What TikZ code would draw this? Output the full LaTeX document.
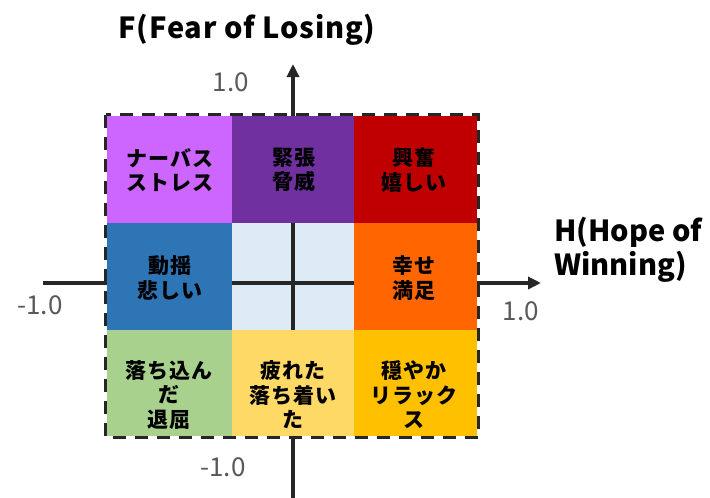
\documentclass[tikz,border=0pt]{standalone}
\usepackage{fontspec}
\setmainfont{Noto Sans CJK JP}
\usetikzlibrary{arrows.meta}
\definecolor{cNerv}{HTML}{CC66FF}
\definecolor{cTens}{HTML}{7030A0}
\definecolor{cExci}{HTML}{C00000}
\definecolor{cUpse}{HTML}{2E75B6}
\definecolor{cCent}{HTML}{DEEBF7}
\definecolor{cHapp}{HTML}{FF6600}
\definecolor{cDepr}{HTML}{A9D18E}
\definecolor{cTire}{HTML}{FFD966}
\definecolor{cCalm}{HTML}{FFC000}
\definecolor{axisgray}{HTML}{262626}
\definecolor{numgray}{HTML}{595959}
\tikzset{
  cellbox/.style={draw=none, minimum width=#1, minimum height=107pt, inner sep=0pt, anchor=center},
  celltext/.style={font=\bfseries\fontsize{21}{24.5}\selectfont\addfontfeatures{LetterSpace=6}, align=center, text=black, inner sep=0pt},
  axisline/.style={draw=axisgray, line width=3.5pt, -{Triangle[length=13pt,width=12pt]}},
  numlabel/.style={font=\fontsize{26}{30}\selectfont, text=numgray, inner sep=0pt},
  axtitle/.style={font=\bfseries\fontsize{29}{34}\selectfont, text=black, inner sep=0pt, align=left},
  border/.style={draw=black!85, line width=3pt, dash pattern=on 13pt off 9pt}
}
\begin{document}
\begin{tikzpicture}[x=1pt,y=-1pt]
\useasboundingbox (0,0) rectangle (710,498);
% center cell
\node[cellbox=122pt, fill=cCent] (cc) at (293,276.5) {};
% axes
\coordinate (ybot) at (293,498);
\coordinate (ytop) at (293,64);
\coordinate (xl) at (43,283);
\coordinate (xr) at (541,283);
\draw[axisline] (ybot) -- (ytop);
\draw[axisline] (xl) -- (xr);
% outer cells
\node[cellbox=125pt, fill=cNerv] (c11) at (169.5,169.5) {};
\node[cellbox=122pt, fill=cTens] (c12) at (293,169.5) {};
\node[cellbox=123pt, fill=cExci] (c13) at (415.5,169.5) {};
\node[cellbox=125pt, fill=cUpse] (c21) at (169.5,276.5) {};
\node[cellbox=123pt, fill=cHapp] (c23) at (415.5,276.5) {};
\node[cellbox=125pt, minimum height=106pt, fill=cDepr] (c31) at (169.5,383) {};
\node[cellbox=122pt, minimum height=106pt, fill=cTire] (c32) at (293,383) {};
\node[cellbox=123pt, minimum height=106pt, fill=cCalm] (c33) at (415.5,383) {};
% border
\draw[border] (105.5,114.5) rectangle (478,437.5);
% cell texts
\node[celltext] (t11) at (170,170) {ナーバス\\ストレス};
\node[celltext] (t12) at (294,170) {緊張\\脅威};
\node[celltext] (t13) at (414,170) {興奮\\嬉しい};
\node[celltext] (t21) at (170,278) {動揺\\悲しい};
\node[celltext] (t23) at (414,278) {幸せ\\満足};
\node[celltext] (t31) at (169,395) {落ち込ん\\だ\\退屈};
\node[celltext] (t32) at (293,395) {疲れた\\落ち着い\\た};
\node[celltext] (t33) at (414,395) {穏やか\\リラック\\ス};
% labels
\node[axtitle, font=\bfseries\fontsize{29}{34}\selectfont\addfontfeatures{LetterSpace=3}] (ftitle) at (247,30) {F(Fear of Losing)};
\node[axtitle, anchor=west] (htitle) at (554,250) {H(Hope of\\[0pt]Winning)};
\node[numlabel] (ntop) at (231,82) {1.0};
\node[numlabel] (nright) at (521,311) {1.0};
\node[numlabel] (nleft) at (40,305) {-1.0};
\node[numlabel] (nbot) at (223,467) {-1.0};
\end{tikzpicture}
\end{document}
